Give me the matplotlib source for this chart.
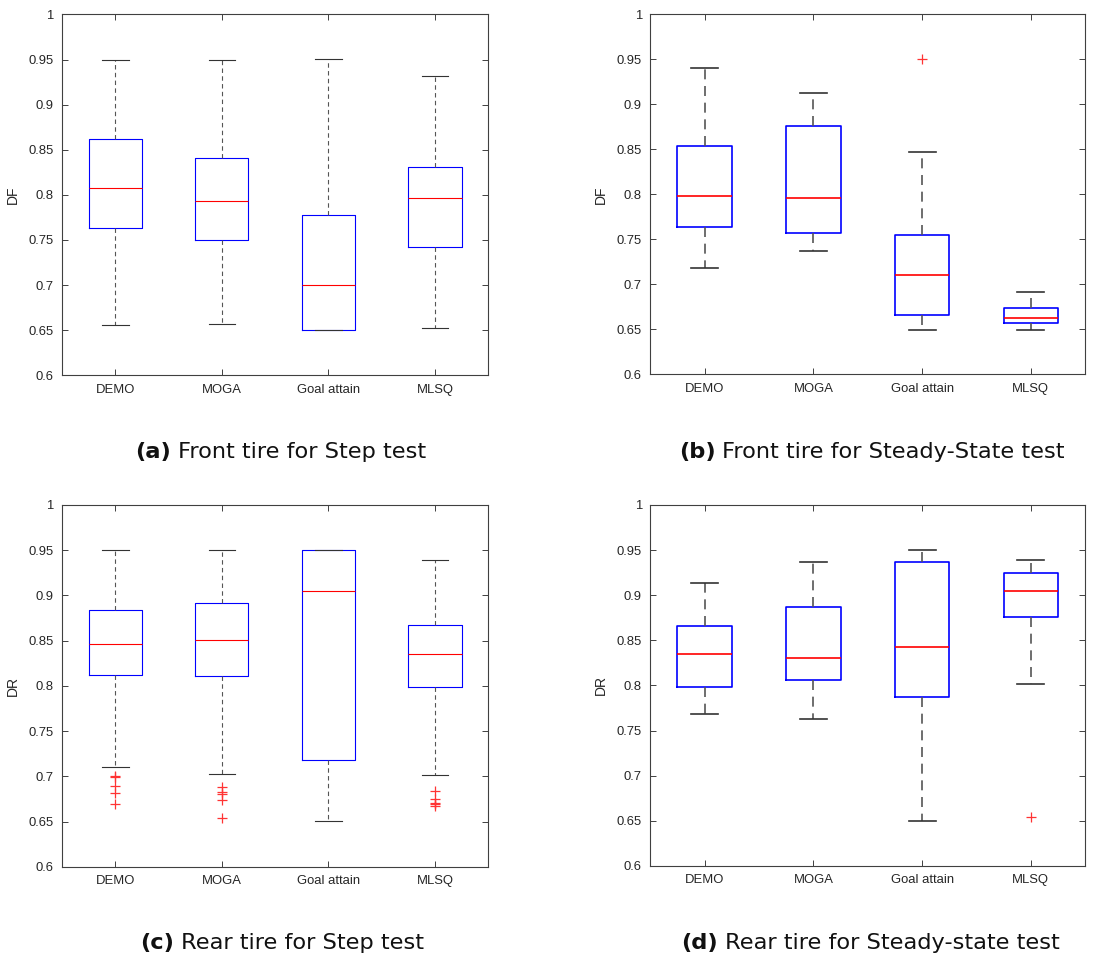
import numpy as np
import matplotlib
matplotlib.use('Agg')
import matplotlib.pyplot as plt

plt.rcParams['font.family'] = ['Liberation Sans', 'DejaVu Sans']

metodos = ['DEMO', 'MOGA', 'Goal attain', 'MLSQ']

# (a) Front tire, Step test
a_lo  = [0.6555, 0.657, 0.6505, 0.652]
a_q1  = [0.763, 0.750, 0.6505, 0.7427]
a_med = [0.808, 0.7937, 0.7006, 0.796]
a_q3  = [0.8617, 0.8414, 0.7775, 0.8307]
a_hi  = [0.9494, 0.950, 0.9505, 0.9312]
a_out = [[], [], [], []]

# (b) Front tire, Steady-State test
b_lo  = [0.7179, 0.7372, 0.6497, 0.6497]
b_q1  = [0.7642, 0.7572, 0.6656, 0.6571]
b_med = [0.7987, 0.7957, 0.7101, 0.663]
b_q3  = [0.8536, 0.8762, 0.7553, 0.6741]
b_hi  = [0.9407, 0.9125, 0.8476, 0.692]
b_out = [[], [], [0.951], []]

# (c) Rear tire, Step test
c_lo  = [0.710, 0.7022, 0.651, 0.7018]
c_q1  = [0.8118, 0.8107, 0.7181, 0.7993]
c_med = [0.8465, 0.8506, 0.9044, 0.8358]
c_q3  = [0.8834, 0.8911, 0.9506, 0.8668]
c_hi  = [0.9498, 0.9506, 0.9506, 0.9395]
c_out = [[0.700, 0.699, 0.689, 0.682, 0.670],
         [0.688, 0.683, 0.681, 0.674, 0.654],
         [],
         [0.684, 0.675, 0.671, 0.670, 0.667]]

# (d) Rear tire, Steady-state test
d_lo  = [0.7685, 0.7626, 0.6496, 0.8019]
d_q1  = [0.7985, 0.806, 0.787, 0.8756]
d_med = [0.835, 0.8304, 0.843, 0.9048]
d_q3  = [0.866, 0.887, 0.937, 0.9248]
d_hi  = [0.914, 0.9367, 0.9504, 0.9393]
d_out = [[], [], [], [0.6537]]

paneles = [
    ('DF', a_lo, a_q1, a_med, a_q3, a_hi, a_out, [0.0562, 0.609, 0.386, 0.376], 0.8, (4, 3)),
    ('DF', b_lo, b_q1, b_med, b_q3, b_hi, b_out, [0.589, 0.610, 0.394, 0.375], 1.2, (6, 4)),
    ('DR', c_lo, c_q1, c_med, c_q3, c_hi, c_out, [0.0562, 0.097, 0.386, 0.377], 0.8, (4, 3)),
    ('DR', d_lo, d_q1, d_med, d_q3, d_hi, d_out, [0.589, 0.098, 0.394, 0.376], 1.2, (6, 4)),
]

# etiqueta, texto, centro x (px), y (fraccion)
captions = [('(a)', 'Front tire for Step test', 280.5, 0.529),
            ('(b)', 'Front tire for Steady-State test', 872, 0.529),
            ('(c)', 'Rear tire for Step test', 282, 0.018),
            ('(d)', 'Rear tire for Steady-state test', 870.5, 0.018)]

gris = '#404040'
fig = plt.figure(figsize=(11.04, 9.6), dpi=100)

for (ylab, lo, q1, med, q3, hi, out, pos, lw, dash) in paneles:
    ax = fig.add_axes(pos)
    stats = []
    for i in range(4):
        stats.append({'whislo': lo[i], 'q1': q1[i], 'med': med[i], 'q3': q3[i],
                      'whishi': hi[i], 'fliers': out[i], 'label': metodos[i]})
    ax.bxp(stats, positions=[1, 2, 3, 4], widths=0.5, showfliers=True,
           boxprops=dict(color='#0000ff', lw=lw),
           medianprops=dict(color='#ff0000', lw=lw),
           whiskerprops=dict(color='#555555', lw=lw, linestyle=(0, dash)),
           capprops=dict(color='#333333', lw=lw),
           flierprops=dict(marker='+', markeredgecolor='#ff3333',
                           markersize=6.5, markeredgewidth=0.9, linestyle='none'))
    ax.set_xlim(0.5, 4.5)
    ax.set_ylim(0.6, 1.0)
    yt = [0.6, 0.65, 0.7, 0.75, 0.8, 0.85, 0.9, 0.95, 1.0]
    ax.set_yticks(yt)
    ax.set_yticklabels(['0.6', '0.65', '0.7', '0.75', '0.8', '0.85', '0.9', '0.95', '1'])
    ax.set_xticks([1, 2, 3, 4])
    ax.set_xticklabels(metodos)
    ax.tick_params(direction='in', top=True, right=True, length=4, width=0.7,
                   colors=gris, labelsize=9.4, labelcolor='#262626', pad=6)
    for s in ax.spines.values():
        s.set_color(gris)
        s.set_linewidth(0.8)
    ax.set_ylabel(ylab, fontsize=10, color='#262626', labelpad=6)

# leyendas debajo de cada panel: "(x)" en negrita + texto
fam = ['DejaVu Sans']
fs = 16.2
r = fig.canvas.get_renderer()
W = fig.get_figwidth() * fig.dpi
for (lab, txt, cx, y) in captions:
    t1 = fig.text(0, y, lab, fontsize=fs, fontweight='bold', ha='left', va='center',
                  family=fam, color='#111111')
    t2 = fig.text(0, y, txt, fontsize=fs, ha='left', va='center', family=fam, color='#111111')
    w1 = t1.get_window_extent(r).width
    w2 = t2.get_window_extent(r).width
    gap = 0.3 * fs * fig.dpi / 72
    x0 = cx - (w1 + gap + w2) / 2
    t1.set_x(x0 / W)
    t2.set_x((x0 + w1 + gap) / W)

fig.savefig('out.png', dpi=100)
